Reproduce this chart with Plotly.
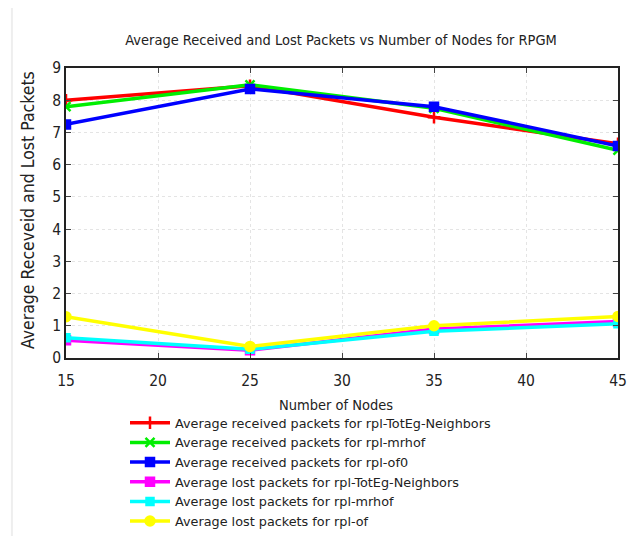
import plotly.graph_objects as go

nodes = [15, 25, 35, 45]
recv_toteg = [8.0, 8.45, 7.47, 6.65]
recv_mrhof = [7.8, 8.48, 7.75, 6.45]
recv_of0 = [7.25, 8.35, 7.8, 6.58]
lost_toteg = [0.55, 0.24, 0.9, 1.13]
lost_mrhof = [0.63, 0.27, 0.83, 1.06]
lost_of = [1.28, 0.36, 1.0, 1.29]

series = [
    ("Average received packets for rpl-TotEg-Neighbors", recv_toteg, "#ff0000", "cross-thin-open", 9),
    ("Average received packets for rpl-mrhof", recv_mrhof, "#00ee00", "x-thin-open", 9),
    ("Average received packets for rpl-of0", recv_of0, "#0000ff", "square", 8),
    ("Average lost packets for rpl-TotEg-Neighbors", lost_toteg, "#ff00ff", "square", 8),
    ("Average lost packets for rpl-mrhof", lost_mrhof, "#00ffff", "square", 7),
    ("Average lost packets for rpl-of", lost_of, "#ffff00", "circle", 9),
]

W, H = 624, 528
font = "DejaVu Sans Condensed, DejaVu Sans, sans-serif"
fig = go.Figure()
for name, vals, col, sym, sz in series:
    fig.add_trace(go.Scatter(
        x=nodes, y=vals, name=name, mode="lines+markers",
        line=dict(color=col, width=3.5),
        marker=dict(symbol=sym, size=sz, color=col, line=dict(color=col, width=2.5)),
    ))

axis_common = dict(showline=True, linecolor="#222", linewidth=1.5, mirror="ticks",
                   ticks="inside", ticklen=5, tickcolor="#444",
                   showgrid=True, gridcolor="#e4e4e4", griddash="dot", gridwidth=1,
                   zeroline=False, automargin=False,
                   tickfont=dict(size=15.5, color="#222", family=font))

fig.update_layout(
    width=W, height=H,
    paper_bgcolor="white", plot_bgcolor="white",
    margin=dict(l=58, r=14, t=60, b=178, autoexpand=False),
    title=dict(text="Average Received and Lost Packets vs Number of Nodes for RPGM",
               x=333 / W, xanchor="center", y=1 - 32 / H, yanchor="middle",
               font=dict(size=14.5, color="#222", family=font)),
    xaxis=dict(range=[15, 45], tickvals=[15, 20, 25, 30, 35, 40, 45],
               ticklabelstandoff=8, **axis_common),
    yaxis=dict(range=[0, 9], tickvals=list(range(10)), **axis_common),
    showlegend=True,
    legend=dict(xref="container", yref="container", x=117 / W, xanchor="left",
                y=1 - 400 / H, yanchor="top",
                font=dict(size=12.8, color="#222", family="DejaVu Sans, sans-serif"),
                tracegroupgap=0, itemwidth=40, bgcolor="rgba(0,0,0,0)"),
    annotations=[
        dict(text="Number of Nodes", xref="paper", yref="paper", x=0.489, y=-0.162,
             xanchor="center", yanchor="middle", showarrow=False,
             font=dict(size=14.5, color="#222", family=font)),
        dict(text="Average Receveid and Lost Packets", xref="paper", yref="paper",
             x=-0.069, y=0.51, textangle=-90, xanchor="center", yanchor="middle",
             showarrow=False, font=dict(size=17.5, color="#222", family=font)),
    ],
    shapes=[
        dict(type="line", xref="paper", yref="paper", x0=-0.098, x1=1.2, y0=1.217, y1=1.217,
             line=dict(color="#eeeeee", width=2)),
        dict(type="line", xref="paper", yref="paper", x0=-0.098, x1=-0.098, y0=1.217, y1=-0.75,
             line=dict(color="#eeeeee", width=2)),
    ],
)

fig.write_html("out.html")
